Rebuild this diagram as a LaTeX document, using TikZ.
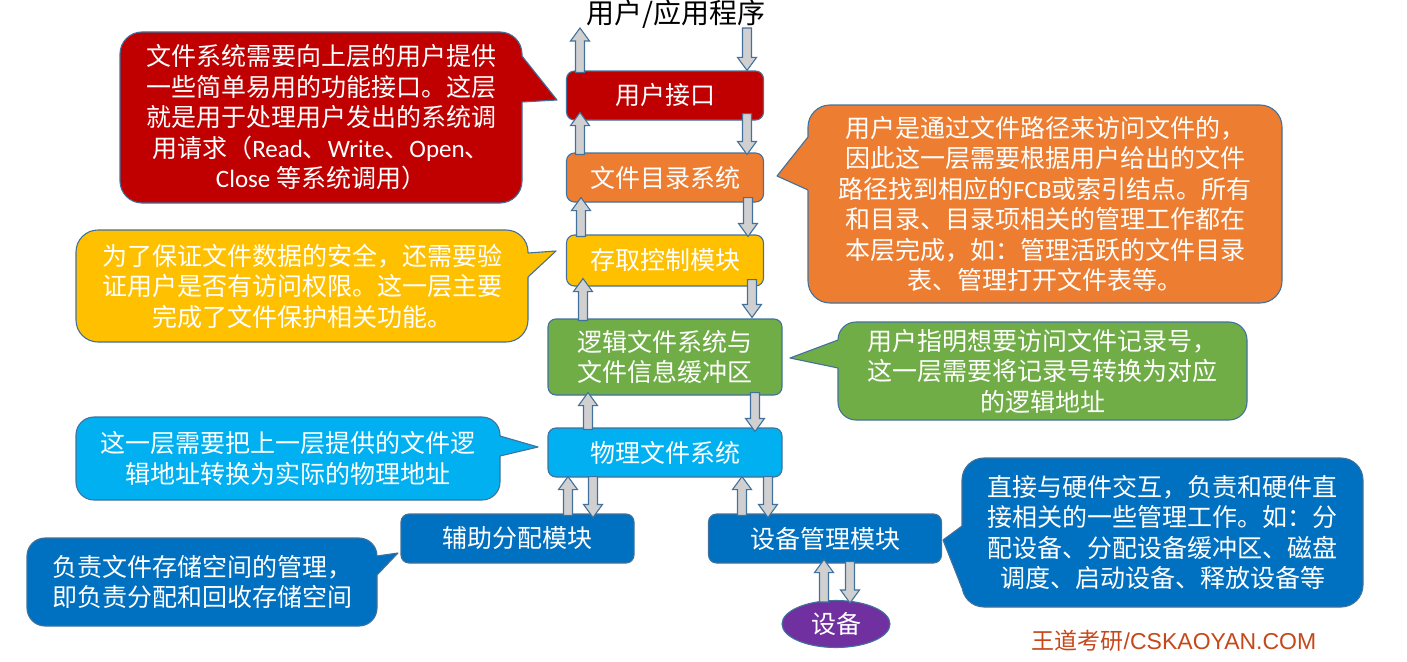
\documentclass[tikz,border=0pt]{standalone}
\usepackage{fontspec}
\setmainfont{Noto Sans CJK SC}
\newfontfamily\cjk{Noto Sans CJK SC}
\newfontfamily\lat{Carlito}
\newfontfamily\arialf{Liberation Sans}
\usetikzlibrary{calc,shapes.geometric}
\definecolor{cRed}{HTML}{C00000}
\definecolor{cOrange}{HTML}{ED7D31}
\definecolor{cYellow}{HTML}{FFC000}
\definecolor{cGreen}{HTML}{70AD47}
\definecolor{cCyan}{HTML}{00B0F0}
\definecolor{cBlue}{HTML}{0070C0}
\definecolor{cPurple}{HTML}{7030A0}
\definecolor{edge}{HTML}{41719C}
\definecolor{arrowfill}{HTML}{D0D0D0}
\definecolor{wmcol}{HTML}{C5471A}
\newcommand\fsz{\fontsize{25}{30.5}\selectfont}
\newcommand\calloutptr[5]{%
  \fill[#1] ([xshift=#5]#2) -- (#2) -- (#3) -- (#4) -- ([xshift=#5]#4) -- cycle;
  \draw[edge, line width=1.1pt, line join=round] (#2) -- (#3) -- (#4);
}
\begin{document}
\begin{tikzpicture}[x=1pt,y=-1pt,
  box/.style={draw=edge, line width=1.1pt, rounded corners=8pt, text=white,
    font=\cjk\fsz, inner sep=0pt, align=center},
  call/.style={draw=edge, line width=1.1pt, rounded corners=22pt, text=white,
    font=\cjk\fsz, inner sep=0pt, align=center},
  barrow/.style={fill=arrowfill, draw=edge, line width=1.1pt, line join=miter,
    to path={let \p1=(\tikztostart), \p2=(\tikztotarget),
      \n1={ifthenelse(\y2>\y1,1,-1)} in
      (\x1-4.5pt,\y1) -- (\x1-4.5pt,\y2-\n1*13pt) -- (\x1-9.5pt,\y2-\n1*13pt)
      -- (\x1,\y2) -- (\x1+9.5pt,\y2-\n1*13pt) -- (\x1+4.5pt,\y2-\n1*13pt)
      -- (\x1+4.5pt,\y1) -- cycle}}
]
\useasboundingbox (0,0) rectangle (1407,661);

% ---------- callouts ----------
\node[call, fill=cRed, minimum width=402pt, minimum height=171pt] (c1) at (321,117.5)
  {文件系统需要向上层的用户提供\\一些简单易用的功能接口。这层\\就是用于处理用户发出的系统调\\用请求（{\lat Read}、{\lat Write}、{\lat Open}、\\{\lat Close} 等系统调用）};
\coordinate (c1a) at (522,56); \coordinate (c1t) at (557,100); \coordinate (c1b) at (522,102);
\calloutptr{cRed}{c1a}{c1t}{c1b}{-3}

\node[call, fill=cOrange, minimum width=474pt, minimum height=198pt] (c2) at (1045,204)
  {用户是通过文件路径来访问文件的，\\因此这一层需要根据用户给出的文件\\路径找到相应的{\lat FCB}或索引结点。所有\\和目录、目录项相关的管理工作都在\\本层完成，如：管理活跃的文件目录\\表、管理打开文件表等。};
\coordinate (c2a) at (808,137); \coordinate (c2t) at (777,176); \coordinate (c2b) at (808,190);
\calloutptr{cOrange}{c2a}{c2t}{c2b}{3}

\node[call, fill=cYellow, minimum width=452pt, minimum height=112pt] (c3) at (302,286)
  {为了保证文件数据的安全，还需要验\\证用户是否有访问权限。这一层主要\\完成了文件保护相关功能。};
\coordinate (c3a) at (528,253); \coordinate (c3t) at (556,251); \coordinate (c3b) at (528,277);
\calloutptr{cYellow}{c3a}{c3t}{c3b}{-3}

\node[call, fill=cGreen, rounded corners=18pt, minimum width=409pt, minimum height=98pt] (c4) at (1042.5,371)
  {用户指明想要访问文件记录号，\\这一层需要将记录号转换为对应\\的逻辑地址};
\coordinate (c4a) at (838,340); \coordinate (c4t) at (790,358); \coordinate (c4b) at (838,368);
\calloutptr{cGreen}{c4a}{c4t}{c4b}{3}

\node[call, fill=cCyan, rounded corners=18pt, minimum width=424pt, minimum height=83pt] (c5) at (288,458.5)
  {这一层需要把上一层提供的文件逻\\辑地址转换为实际的物理地址};
\coordinate (c5a) at (500,436); \coordinate (c5t) at (538,447); \coordinate (c5b) at (500,456);
\calloutptr{cCyan}{c5a}{c5t}{c5b}{-3}

\node[call, fill=cBlue, rounded corners=18pt, minimum width=350pt, minimum height=88pt] (c6) at (202,582)
  {负责文件存储空间的管理，\\即负责分配和回收存储空间};
\coordinate (c6a) at (377,556); \coordinate (c6t) at (398,553); \coordinate (c6b) at (377,575);
\calloutptr{cBlue}{c6a}{c6t}{c6b}{-3}

\node[call, fill=cBlue, minimum width=401pt, minimum height=149pt] (c7) at (1162.5,532.5)
  {直接与硬件交互，负责和硬件直\\接相关的一些管理工作。如：分\\配设备、分配设备缓冲区、磁盘\\调度、启动设备、释放设备等};
\coordinate (c7a) at (962,526); \coordinate (c7t) at (943,540); \coordinate (c7b) at (962,588);
\calloutptr{cBlue}{c7a}{c7t}{c7b}{3}

% ---------- layers ----------
\node[font=\cjk\fontsize{28}{32}\selectfont, inner sep=0pt] (app) at (676,14) {用户/应用程序};
\coordinate (apptop) at (676,28);
\node[box, fill=cRed, minimum width=197pt, minimum height=49pt] (ui) at (665,95.5) {用户接口};
\node[box, fill=cOrange, minimum width=197pt, minimum height=49pt] (fd) at (665,177.5) {文件目录系统};
\node[box, fill=cYellow, minimum width=197pt, minimum height=51pt] (ac) at (665,260.5) {存取控制模块};
\node[box, fill=cGreen, minimum width=234pt, minimum height=76pt] (lf) at (665,357) {逻辑文件系统与\\文件信息缓冲区};
\node[box, fill=cCyan, minimum width=234pt, minimum height=49pt] (pf) at (665,452.5) {物理文件系统};
\node[box, fill=cBlue, minimum width=233pt, minimum height=49pt] (aux) at (517.5,538.5) {辅助分配模块};
\node[box, fill=cBlue, minimum width=233pt, minimum height=49pt] (dm) at (825,538.5) {设备管理模块};
\node[ellipse, draw=edge, line width=1.1pt, fill=cPurple, text=white, font=\cjk\fsz,
  inner sep=0pt, minimum width=108pt, minimum height=47pt] (dev) at (836,624) {设备};

% ---------- block arrows ----------
\draw[barrow] ([xshift=-85,yshift=-2]ui.north) to (apptop);
\draw[barrow] ([xshift=71]apptop) to (ui.north);
\draw[barrow] ([xshift=-85,yshift=-2]fd.north) to ([yshift=8]ui.south);
\draw[barrow] ([xshift=82,yshift=7]ui.south) to ([yshift=-2]fd.north);
\draw[barrow] ([xshift=-84,yshift=-2]ac.north) to ([yshift=5]fd.south);
\draw[barrow] ([xshift=83,yshift=5]fd.south) to ([yshift=-2]ac.north);
\draw[barrow] ([xshift=-82,yshift=-2]lf.north) to ([yshift=8]ac.south);
\draw[barrow] ([xshift=87,yshift=7]ac.south) to ([yshift=1]lf.north);
\draw[barrow] ([xshift=-77,yshift=-2]pf.north) to ([yshift=3]lf.south);
\draw[barrow] ([xshift=90,yshift=3]lf.south) to ([yshift=-4]pf.north);
\draw[barrow] ([xshift=50.5,yshift=-2]aux.north) to ([yshift=1]pf.south);
\draw[barrow] ([xshift=-72,yshift=1]pf.south) to ([yshift=-4]aux.north);
\draw[barrow] ([xshift=-83,yshift=-2]dm.north) to ([yshift=1]pf.south);
\draw[barrow] ([xshift=103,yshift=1]pf.south) to ([yshift=-4]dm.north);
\draw[barrow] ([xshift=-12,yshift=-2]dev.north) to ([yshift=4]dm.south);
\draw[barrow] ([xshift=25,yshift=2]dm.south) to ([yshift=-3]dev.north);

% ---------- watermark ----------
\node[text=wmcol, inner sep=0pt, font=\fontsize{23}{27}\selectfont] (wm) at (1174,641)
  {\cjk 王道考研\arialf /CSKAOYAN.COM};
\end{tikzpicture}
\end{document}
